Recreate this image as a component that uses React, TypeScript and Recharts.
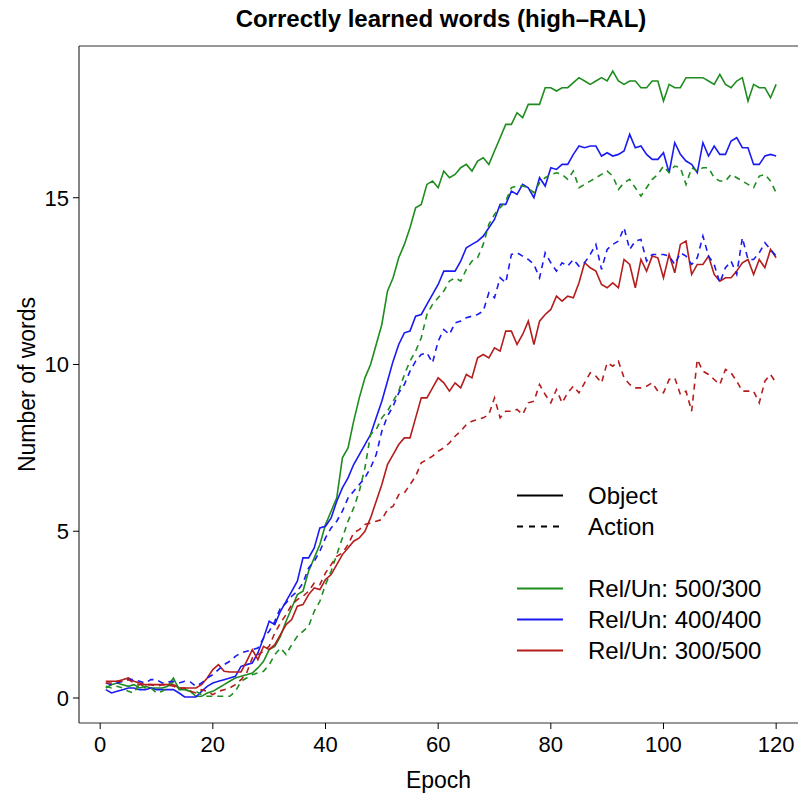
import React from 'react';
import { LineChart, Line, XAxis, YAxis, ReferenceLine, Legend, Label } from 'recharts';

const FONT = '"Liberation Sans", Arial, Helvetica, sans-serif';
const GREEN = '#1e8c1e';
const BLUE = '#1a1af2';
const RED = '#b51c1c';

// Rel/Un: 500/300
const greenObject = [
  0.3, 0.4, 0.45, 0.4, 0.35, 0.4, 0.3, 0.35, 0.3, 0.3, 0.3, 0.35, 0.6, 0.25, 0.25, 0.2, 0.05, 0.05, 0.15, 0.2,
  0.3, 0.4, 0.5, 0.6, 0.65, 0.7, 0.75, 0.9, 1.1, 1.45, 1.55, 1.85, 2.3, 2.7, 3.1, 3.2, 3.8, 4.2, 4.6, 5.2,
  5.6, 6.0, 7.2, 7.5, 8.3, 9.0, 9.6, 10.0, 10.6, 11.2, 12.2, 12.6, 13.2, 13.6, 14.1, 14.7, 14.8, 15.4, 15.5, 15.3,
  15.8, 15.6, 15.7, 15.9, 16.0, 15.8, 16.1, 16.2, 16.0, 16.4, 16.8, 17.2, 17.2, 17.55, 17.4, 17.8, 17.8, 17.8, 18.3, 18.3,
  18.2, 18.3, 18.3, 18.45, 18.6, 18.5, 18.4, 18.5, 18.6, 18.5, 18.8, 18.5, 18.4, 18.5, 18.5, 18.3, 18.3, 18.5, 18.5, 17.9,
  18.4, 18.3, 18.3, 18.6, 18.6, 18.6, 18.6, 18.5, 18.4, 18.7, 18.4, 18.3, 18.5, 18.6, 17.9, 18.4, 18.3, 18.3, 18.0, 18.4,
];
const greenAction = [
  0.35, 0.3, 0.35, 0.3, 0.2, 0.15, 0.45, 0.3, 0.3, 0.15, 0.2, 0.3, 0.5, 0.3, 0.25, 0.2, 0.2, 0.1, 0.05, 0.05,
  0.05, 0.05, 0.05, 0.2, 0.5, 0.6, 0.7, 0.75, 0.8, 1.0, 1.3, 1.5, 1.3, 1.6, 1.85, 2.0, 2.15, 2.6, 2.9, 3.4,
  3.8, 4.3, 4.8, 5.3, 5.7, 6.2, 6.9, 7.9, 8.05, 8.4, 8.6, 8.9, 9.2, 9.7, 10.1, 10.4, 10.8, 11.5, 11.8, 12.0,
  12.2, 12.5, 12.6, 12.5, 12.85, 13.1, 13.2, 13.6, 14.2, 14.5, 14.7, 14.9, 15.3, 15.35, 15.35, 15.3, 15.15, 15.45, 15.6, 15.7,
  15.75, 15.7, 15.55, 15.8, 15.3, 15.4, 15.5, 15.6, 15.7, 15.8, 15.65, 15.25, 15.45, 15.55, 15.3, 15.05, 15.3, 15.55, 15.7, 15.95,
  15.75, 15.95, 15.9, 15.4, 15.9, 15.8, 15.9, 15.9, 15.6, 15.5, 15.5, 15.7, 15.6, 15.5, 15.4, 15.3, 15.65, 15.7, 15.5, 15.15,
];

// Rel/Un: 400/400
const blueObject = [
  0.25, 0.15, 0.2, 0.25, 0.3, 0.3, 0.25, 0.25, 0.3, 0.25, 0.25, 0.25, 0.25, 0.15, 0.03, 0.03, 0.03, 0.2, 0.35, 0.45,
  0.5, 0.55, 0.6, 0.65, 0.95, 1.0, 1.05, 1.35, 1.8, 2.3, 2.2, 2.6, 2.9, 3.2, 3.5, 4.2, 4.2, 4.5, 5.1, 5.15,
  5.4, 5.9, 6.3, 6.6, 7.0, 7.3, 7.6, 7.9, 8.4, 8.9, 9.5, 10.1, 10.6, 10.95, 11.0, 11.45, 11.5, 11.8, 12.1, 12.4,
  12.8, 12.8, 12.8, 13.1, 13.5, 13.6, 13.7, 13.85, 14.1, 14.35, 14.8, 14.8, 15.2, 15.1, 15.4, 15.3, 15.0, 15.6, 15.35, 15.9,
  15.85, 16.0, 16.0, 16.3, 16.55, 16.5, 16.55, 16.55, 16.25, 16.35, 16.25, 16.3, 16.4, 16.9, 16.5, 16.55, 16.3, 16.15, 16.15, 16.35,
  15.75, 16.65, 16.3, 16.1, 16.0, 15.75, 16.65, 16.25, 16.55, 16.3, 16.3, 16.7, 16.8, 16.5, 16.5, 16.0, 16.0, 16.25, 16.3, 16.25,
];
const blueAction = [
  0.45, 0.4, 0.45, 0.5, 0.55, 0.55, 0.5, 0.45, 0.55, 0.55, 0.45, 0.48, 0.5, 0.45, 0.5, 0.48, 0.35, 0.45, 0.6, 0.7,
  0.85, 1.0, 1.1, 1.25, 1.35, 1.4, 1.45, 1.5, 1.8, 2.0, 2.3, 2.7, 2.85, 3.05, 3.2, 3.45, 3.9, 4.1, 4.4, 4.8,
  5.1, 5.3, 5.6, 6.0, 6.2, 6.4, 6.6, 6.9, 7.3, 8.0, 8.45, 8.75, 9.15, 9.4, 9.8, 10.1, 10.3, 10.35, 10.05, 10.7,
  11.05, 10.9, 11.25, 11.3, 11.4, 11.45, 11.5, 11.6, 12.15, 12.0, 12.6, 12.45, 13.3, 13.35, 13.25, 13.15, 13.0, 12.6, 13.35, 13.05,
  12.8, 13.05, 12.95, 13.15, 12.95, 13.05, 13.3, 13.6, 12.85, 13.45, 13.6, 13.7, 14.1, 13.45, 13.7, 13.75, 13.1, 13.3, 13.3, 13.3,
  13.25, 13.0, 13.35, 13.25, 13.0, 13.2, 13.85, 13.25, 13.0, 12.45, 12.9, 13.1, 12.7, 13.8, 13.15, 13.15, 13.35, 13.65, 13.45, 13.25,
];

// Rel/Un: 300/500
const redObject = [
  0.5, 0.5, 0.5, 0.55, 0.6, 0.5, 0.45, 0.4, 0.4, 0.4, 0.4, 0.4, 0.4, 0.3, 0.3, 0.3, 0.3, 0.4, 0.6, 0.85,
  1.0, 0.8, 0.78, 0.78, 0.78, 1.1, 1.45, 1.15, 1.55, 1.45, 1.6, 1.9, 2.2, 2.35, 2.75, 2.8, 3.1, 3.3, 3.25, 3.55,
  3.7, 4.0, 4.3, 4.5, 4.7, 4.8, 5.0, 5.4, 5.9, 6.4, 7.0, 7.3, 7.6, 7.8, 7.8, 8.4, 9.0, 9.0, 9.3, 9.6,
  9.45, 9.2, 9.45, 9.3, 9.7, 9.6, 10.2, 10.3, 10.2, 10.5, 10.4, 11.0, 11.0, 10.6, 10.9, 11.3, 10.6, 11.3, 11.5, 11.65,
  12.05, 11.9, 12.05, 12.0, 12.45, 13.05, 12.9, 12.8, 12.4, 12.3, 12.45, 12.3, 13.15, 13.0, 12.3, 13.15, 12.8, 13.25, 13.2, 12.6,
  13.3, 12.75, 13.6, 13.7, 12.7, 13.0, 13.0, 13.25, 12.7, 12.5, 12.6, 12.6, 12.8, 13.05, 13.15, 12.7, 13.15, 12.9, 13.45, 13.2,
];
const redAction = [
  0.45, 0.45, 0.5, 0.5, 0.55, 0.45, 0.4, 0.4, 0.4, 0.35, 0.4, 0.4, 0.35, 0.3, 0.3, 0.2, 0.15, 0.25, 0.2, 0.1,
  0.2, 0.25, 0.3, 0.4, 0.55, 0.75, 1.2, 1.3, 1.4, 1.55, 1.95, 2.25, 2.5, 2.8, 2.95, 3.05, 3.2, 3.45, 3.4, 3.75,
  4.0, 4.25, 4.35, 4.6, 4.95, 5.05, 5.2, 5.25, 5.3, 5.35, 5.65, 5.75, 6.1, 6.15, 6.4, 6.65, 7.05, 7.15, 7.25, 7.4,
  7.5, 7.65, 7.85, 8.0, 8.2, 8.3, 8.35, 8.4, 8.5, 9.0, 8.4, 8.6, 8.6, 8.65, 8.5, 8.85, 8.9, 9.4, 9.1, 8.85,
  9.25, 8.85, 9.15, 9.35, 9.15, 9.45, 9.75, 9.65, 9.45, 10.05, 9.95, 10.1, 9.6, 9.4, 9.3, 9.3, 9.35, 9.45, 9.2, 9.15,
  9.55, 9.6, 9.1, 9.2, 8.6, 10.15, 9.8, 9.7, 9.55, 9.4, 9.85, 9.75, 9.5, 9.2, 9.2, 9.2, 8.85, 9.5, 9.7, 9.45,
];

const xTicks = [0, 20, 40, 60, 80, 100, 120];
const yTicks = [0, 5, 10, 15];

// R-style ranges; the right edge of the original box falls just outside the image
const X_DOMAIN: [number, number] = [-3.76, 123.88];
const Y_DOMAIN: [number, number] = [-0.75, 19.55];

const chartData = greenObject.map((_, i) => ({
  epoch: i + 1,
  gO: greenObject[i],
  bO: blueObject[i],
  rO: redObject[i],
  gA: greenAction[i],
  bA: blueAction[i],
  rA: redAction[i],
}));

const legendRows = [
  { label: 'Object', color: '#000', dash: undefined },
  { label: 'Action', color: '#000', dash: '6 6' },
  null,
  { label: 'Rel/Un: 500/300', color: GREEN, dash: undefined },
  { label: 'Rel/Un: 400/400', color: BLUE, dash: undefined },
  { label: 'Rel/Un: 300/500', color: RED, dash: undefined },
];

function ChartLegend() {
  return (
    <div style={{ fontFamily: FONT, fontSize: 24, color: '#000' }}>
      {legendRows.map((row, i) => (
        <div key={i} style={{ height: 31, display: 'flex', alignItems: 'center' }}>
          {row && (
            <>
              <svg width={46} height={31}>
                <line
                  x1={0}
                  x2={46}
                  y1={15.5}
                  y2={15.5}
                  stroke={row.color}
                  strokeWidth={2}
                  strokeDasharray={row.dash}
                />
              </svg>
              <span style={{ marginLeft: 25, lineHeight: '31px' }}>{row.label}</span>
            </>
          )}
        </div>
      ))}
    </div>
  );
}

export default function App() {
  const tickStyle = { fontSize: 22, fill: '#000', fontFamily: FONT };
  const lineProps = { type: 'linear' as const, dot: false, strokeWidth: 1.6, isAnimationActive: false };

  return (
    <div style={{ position: 'absolute', left: 0, top: 0, width: 798, height: 796, background: '#fff' }}>
      <div
        style={{
          position: 'absolute',
          left: 0,
          width: 882,
          top: 7,
          textAlign: 'center',
          fontFamily: FONT,
          fontWeight: 'bold',
          fontSize: 24,
          lineHeight: '24px',
          color: '#000',
        }}
      >
        Correctly learned words (high–RAL)
      </div>
      <LineChart
        width={798}
        height={796}
        data={chartData}
        margin={{ top: 46, right: 0, bottom: 0, left: 0 }}
        style={{ fontFamily: FONT }}
      >
        <XAxis
          dataKey="epoch"
          type="number"
          domain={X_DOMAIN}
          ticks={xTicks}
          allowDataOverflow
          height={73}
          axisLine={{ stroke: '#333', strokeWidth: 1.2 }}
          tickLine={{ stroke: '#000' }}
          tickSize={6}
          tickMargin={7}
          tick={tickStyle}
        >
          <Label
            value="Epoch"
            position="insideBottom"
            offset={8}
            style={{ fontSize: 23, fill: '#000', fontFamily: FONT }}
          />
        </XAxis>
        <YAxis
          type="number"
          domain={Y_DOMAIN}
          ticks={yTicks}
          allowDataOverflow
          width={79}
          axisLine={{ stroke: '#333', strokeWidth: 1.2 }}
          tickLine={{ stroke: '#000' }}
          tickSize={6}
          tickMargin={4}
          tick={tickStyle}
        >
          <Label
            value="Number of words"
            angle={-90}
            position="insideLeft"
            offset={27}
            style={{ fontSize: 23, fill: '#000', fontFamily: FONT, textAnchor: 'middle' }}
          />
        </YAxis>
        {/* top edge of the plot box */}
        <ReferenceLine y={Y_DOMAIN[1]} stroke="#333" strokeWidth={1.2} ifOverflow="visible" />
        <Line dataKey="gO" stroke={GREEN} {...lineProps} />
        <Line dataKey="bO" stroke={BLUE} {...lineProps} />
        <Line dataKey="rO" stroke={RED} {...lineProps} />
        <Line dataKey="gA" stroke={GREEN} strokeDasharray="6 5" {...lineProps} />
        <Line dataKey="bA" stroke={BLUE} strokeDasharray="6 5" {...lineProps} />
        <Line dataKey="rA" stroke={RED} strokeDasharray="6 5" {...lineProps} />
        <Legend
          layout="vertical"
          align="center"
          verticalAlign="middle"
          wrapperStyle={{ left: 517, top: 480, width: 280 }}
          content={() => <ChartLegend />}
        />
      </LineChart>
    </div>
  );
}
